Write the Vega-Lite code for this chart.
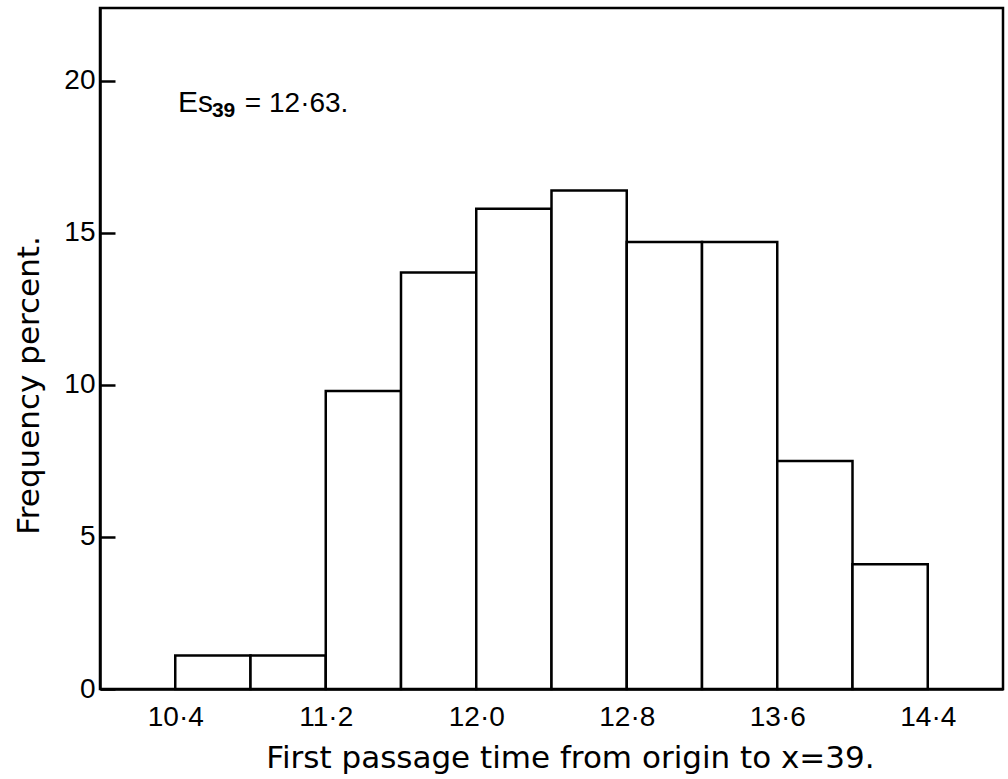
{
  "$schema": "https://vega.github.io/schema/vega-lite/v6.json",
  "autosize": {"type": "none"},
  "width": 903,
  "height": 681,
  "padding": {"left": 100, "top": 8, "right": 5, "bottom": 90},
  "background": "white",
  "config": {
    "view": {"stroke": "black", "strokeWidth": 2.5},
    "axis": {
      "domainColor": "black",
      "domainWidth": 2.5,
      "tickColor": "black",
      "tickWidth": 2.5,
      "grid": false,
      "labelColor": "black",
      "titleColor": "black",
      "labelFont": "Liberation Sans",
      "labelFontSize": 28,
      "titleFont": "DejaVu Sans",
      "titleFontSize": 31,
      "titleFontWeight": "normal"
    }
  },
  "data": {
    "values": [
      {"bin_start": 10.4, "bin_end": 10.8, "pct": 1.1},
      {"bin_start": 10.8, "bin_end": 11.2, "pct": 1.1},
      {"bin_start": 11.2, "bin_end": 11.6, "pct": 9.8},
      {"bin_start": 11.6, "bin_end": 12.0, "pct": 13.7},
      {"bin_start": 12.0, "bin_end": 12.4, "pct": 15.8},
      {"bin_start": 12.4, "bin_end": 12.8, "pct": 16.4},
      {"bin_start": 12.8, "bin_end": 13.2, "pct": 14.7},
      {"bin_start": 13.2, "bin_end": 13.6, "pct": 14.7},
      {"bin_start": 13.6, "bin_end": 14.0, "pct": 7.5},
      {"bin_start": 14.0, "bin_end": 14.4, "pct": 4.1}
    ]
  },
  "layer": [
    {
      "mark": {"type": "rect", "fill": "white", "stroke": "black", "strokeWidth": 2.5},
      "encoding": {
        "x": {
          "field": "bin_start",
          "type": "quantitative",
          "scale": {"domain": [10.0, 14.8], "nice": false, "zero": false},
          "axis": {
            "values": [10.4, 11.2, 12.0, 12.8, 13.6, 14.4],
            "labelExpr": "replace(format(datum.value, '.1f'), '.', '·')",
            "ticks": false,
            "labelPadding": 14,
            "title": "First passage time from origin to x=39.",
            "titlePadding": 12,
            "titleX": 470
          }
        },
        "x2": {"field": "bin_end"},
        "y": {
          "field": "pct",
          "type": "quantitative",
          "scale": {"domain": [0, 22.4], "nice": false},
          "axis": {
            "values": [0, 5, 10, 15, 20],
            "tickSize": -15,
            "labelPadding": 20,
            "title": "Frequency percent.",
            "titlePadding": 18,
            "titleY": 377
          }
        },
        "y2": {"datum": 0}
      }
    },
    {
      "data": {"values": [{}]},
      "mark": {"type": "text", "text": "Es", "font": "Liberation Sans", "fontSize": 30, "align": "left", "baseline": "alphabetic", "color": "black"},
      "encoding": {"x": {"datum": 10.415}, "y": {"datum": 18.98}}
    },
    {
      "data": {"values": [{}]},
      "mark": {"type": "text", "text": "39", "font": "Liberation Sans", "fontSize": 21, "fontWeight": "bold", "align": "left", "baseline": "alphabetic", "color": "black"},
      "encoding": {"x": {"datum": 10.595}, "y": {"datum": 18.8}}
    },
    {
      "data": {"values": [{}]},
      "mark": {"type": "text", "text": "= 12·63.", "font": "Liberation Sans", "fontSize": 28, "align": "left", "baseline": "alphabetic", "color": "black"},
      "encoding": {"x": {"datum": 10.77}, "y": {"datum": 18.98}}
    }
  ]
}
